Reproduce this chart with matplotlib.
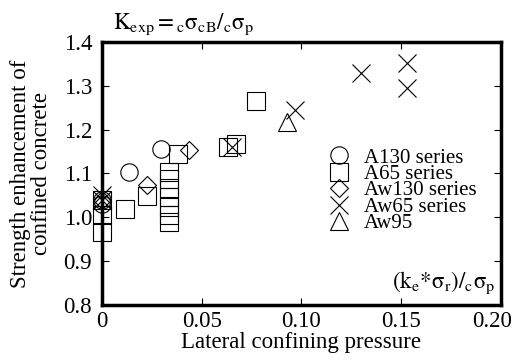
import matplotlib
matplotlib.use('Agg')
import matplotlib.pyplot as plt
import matplotlib.transforms as mtransforms

plt.rcParams['font.family'] = ['Liberation Serif', 'DejaVu Serif']
plt.rcParams['mathtext.fontset'] = 'stix'

# A130 series (circles)
a130_x = [0.0, 0.0, 0.0135, 0.0295]
a130_y = [1.03, 1.04, 1.103, 1.156]

# A65 series (squares)
a65_x = [0.0, 0.0, 0.0, 0.0115, 0.0225, 0.0335, 0.0335, 0.0335, 0.0335, 0.0335,
         0.0335, 0.0335, 0.038, 0.063, 0.067, 0.077]
a65_y = [0.966, 1.005, 1.04, 1.019, 1.049, 1.103, 1.087, 1.066, 1.046, 1.024,
         1.005, 0.989, 1.144, 1.16, 1.168, 1.265]

# Aw130 series (diamonds)
aw130_x = [0.0, 0.0225, 0.0435]
aw130_y = [1.04, 1.074, 1.153]

# Aw65 series (crosses)
aw65_x = [0.0, 0.0, 0.065, 0.097, 0.13, 0.153, 0.153]
aw65_y = [1.05, 1.04, 1.16, 1.245, 1.33, 1.352, 1.295]

# Aw95 (triangle)
aw95_x = [0.093]
aw95_y = [1.217]

x_ticks = [0, 0.05, 0.10, 0.15, 0.20]
x_ticklabels = ['0', '0.05', '0.10', '0.15', '0.20']
y_ticks = [0.8, 0.9, 1.0, 1.1, 1.2, 1.3, 1.4]

fs = 16.5

fig = plt.figure(figsize=(5.14, 3.61), dpi=100)
ax = fig.add_axes([0.198, 0.155, 0.777, 0.729])

ms = 12.5
common = dict(linestyle='none', markerfacecolor='none', markeredgecolor='black',
              markeredgewidth=0.8, clip_on=False)
ax.plot(a130_x, a130_y, marker='o', markersize=ms, label='A130 series', **common)
ax.plot(a65_x, a65_y, marker='s', markersize=ms, label='A65 series', **common)
ax.plot(aw130_x, aw130_y, marker='D', markersize=9.0, label='Aw130 series', **common)
ax.plot(aw65_x, aw65_y, marker='x', markersize=13.5, label='Aw65 series', **common)
ax.plot(aw95_x, aw95_y, marker='^', markersize=ms, label='Aw95', **common)

ax.set_xlim(0, 0.20)
ax.set_ylim(0.8, 1.4)
ax.set_xticks(x_ticks)
ax.set_xticklabels(x_ticklabels)
ax.set_yticks(y_ticks)
ax.set_yticklabels(['%.1f' % v for v in y_ticks])
ax.tick_params(direction='in', length=5, width=0.8, labelsize=fs,
               top=True, right=True)
ax.tick_params(axis='x', pad=4)
ax.tick_params(axis='y', pad=7)
for sp in ax.spines.values():
    sp.set_linewidth(2.5)

# last x tick label sits a bit to the left so it stays inside the figure
last = ax.get_xticklabels()[-1]
last.set_transform(last.get_transform() +
                   mtransforms.ScaledTranslation(-9 / 100, 0, fig.dpi_scale_trans))

ax.set_xlabel('Lateral confining pressure', fontsize=fs, labelpad=0)
ax.set_ylabel('Strength enhancement of\nconfined concrete', fontsize=fs,
              labelpad=8, linespacing=1.0)

fig.text(113 / 514, 1 - 29 / 361, r'$\mathrm{K_{exp}={}_c\sigma_{cB}/{}_c\sigma_p}$',
         fontsize=fs, ha='left', va='baseline')
ax.text(0.985, 0.035, r'$\mathrm{(k_e{*}\sigma_r)/{}_c\sigma_p}$', transform=ax.transAxes,
        fontsize=fs, ha='right', va='bottom')

ax.legend(loc='upper left', bbox_to_anchor=(0.567, 0.597), frameon=False,
          fontsize=15, handletextpad=0.7, labelspacing=-0.15, borderaxespad=0,
          borderpad=0, handlelength=1.0)

fig.savefig('out.png', dpi=100)
